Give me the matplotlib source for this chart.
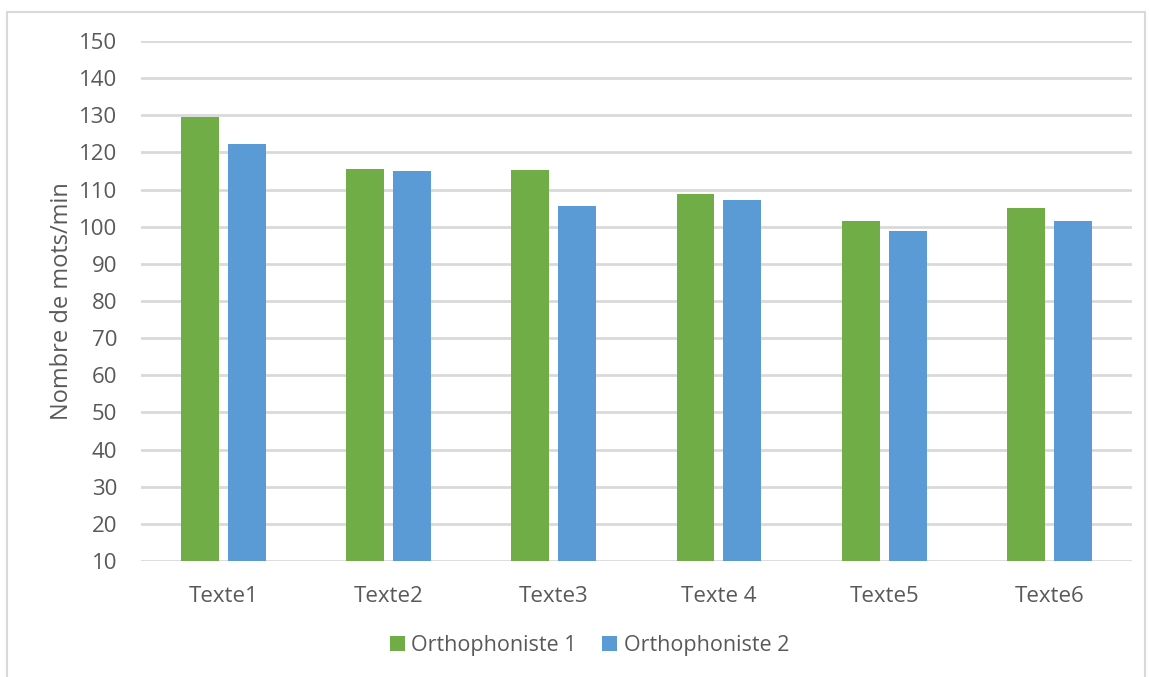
import numpy as np
import matplotlib.pyplot as plt
from matplotlib.patches import Rectangle

categories = ["Texte1", "Texte2", "Texte3", "Texte 4", "Texte5", "Texte6"]
ortho1 = [129.5, 115.5, 115.4, 108.7, 101.5, 105.0]
ortho2 = [122.4, 114.9, 105.5, 107.3, 98.8, 101.5]
series_names = ["Orthophoniste 1", "Orthophoniste 2"]

green = "#70AD47"
blue = "#5B9BD5"
text_col = "#595959"
plt.rcParams["font.family"] = ["Open Sans", "DejaVu Sans"]

fig = plt.figure(figsize=(11.49, 6.77), dpi=100)
ax = fig.add_axes([0.1227, 0.1713, 0.8623, 0.7681])

# outer chart border
fig.patches.append(Rectangle((7 / 1149, -0.01), 1138 / 1149, 1 - 12 / 677 + 0.01,
                             transform=fig.transFigure, fill=False,
                             edgecolor="#D9D9D9", linewidth=1.5))

x = np.arange(len(categories))
w = 0.23
base = 10
ax.bar(x - 0.142, np.array(ortho1) - base, w, bottom=base, color=green,
       label=series_names[0], zorder=3)
ax.bar(x + 0.142, np.array(ortho2) - base, w, bottom=base, color=blue,
       label=series_names[1], zorder=3)

ax.set_xlim(-0.5, len(categories) - 0.5)
ax.set_ylim(10, 150)
ax.set_yticks(range(10, 151, 10))
ax.yaxis.grid(True, color="#D9D9D9", linewidth=2, zorder=0)
ax.set_axisbelow(True)
for s in ax.spines.values():
    s.set_visible(False)
ax.tick_params(axis="both", length=0, labelsize=16, colors=text_col)
ax.tick_params(axis="x", pad=18)
ax.tick_params(axis="y", pad=17)
ax.set_xticks(x)
ax.set_xticklabels(categories)
ax.set_ylabel("Nombre de mots/min", fontsize=17, color=text_col, labelpad=4)

leg = fig.legend(loc="center", bbox_to_anchor=(0.513, 0.047), ncol=2,
                 frameon=False, fontsize=15.5, handlelength=0.7, handleheight=0.7,
                 handletextpad=0.3, columnspacing=1.2)
for t in leg.get_texts():
    t.set_color(text_col)

fig.savefig("out.png", dpi=100)
